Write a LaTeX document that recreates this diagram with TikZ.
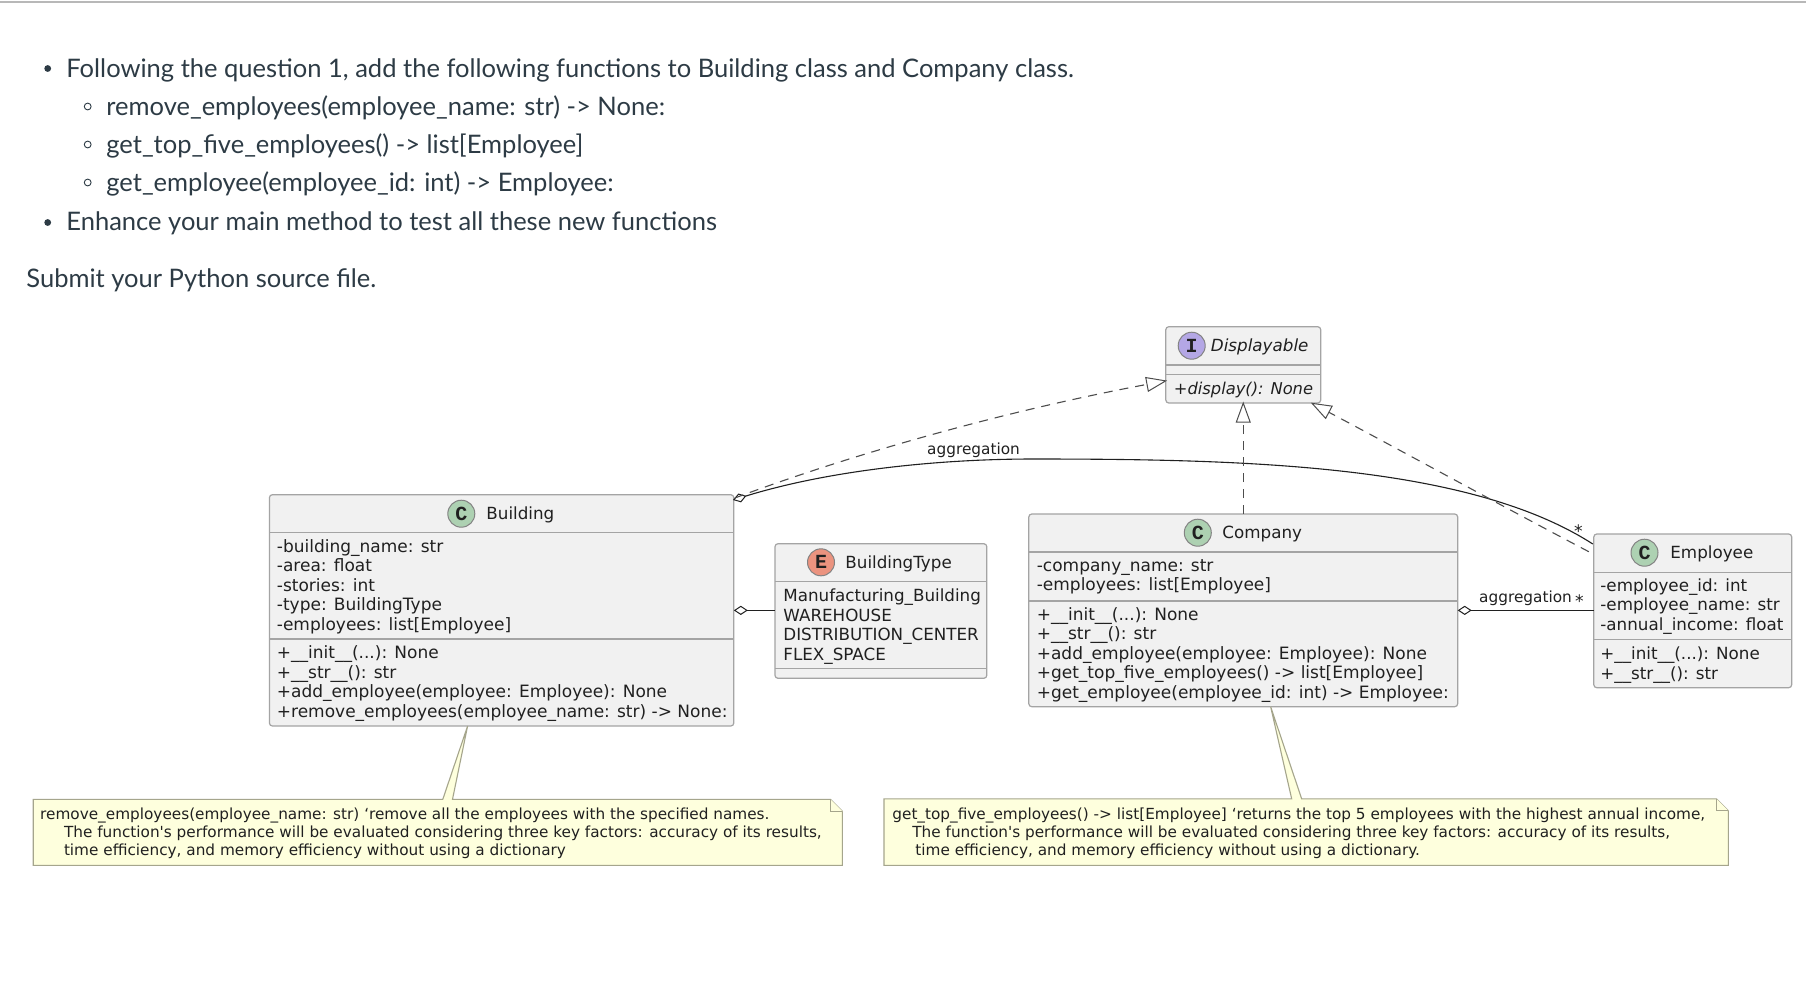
\documentclass[tikz,border=0pt]{standalone}
\usepackage{fontspec}
\usetikzlibrary{arrows.meta,fit,calc,shapes.geometric}
\newfontfamily\latofont{Lato}
\newfontfamily\dejavu{DejaVu Sans}
\newfontfamily\dejavuit{DejaVu Sans Oblique}
\newfontfamily\iconfont{Liberation Mono}
\definecolor{boxfill}{HTML}{F1F1F1}
\definecolor{boxline}{HTML}{A4A4A4}
\definecolor{notefill}{HTML}{FEFFDD}
\definecolor{noteline}{HTML}{A5A58C}
\definecolor{ink}{HTML}{202020}
\definecolor{prose}{HTML}{2D3B45}
\definecolor{iconC}{HTML}{ADD1B2}
\definecolor{iconI}{HTML}{B4A7E5}
\definecolor{iconE}{HTML}{EB937F}
\newcommand{\fl}{\rule{0pt}{6.5pt}}
\newcommand{\nl}{\rule{0pt}{6pt}}
\tikzset{
  x=0.5pt,y=-0.5pt,
  prosetext/.style={anchor=base west,inner sep=0pt,text=prose,font=\latofont\fontsize{12.76}{15}\selectfont},
  umlbox/.style={draw=boxline,fill=boxfill,line width=0.6pt,rounded corners=1.5pt,inner sep=0pt,outer sep=0pt},
  sepline/.style={draw=boxline,line width=0.6pt},
  members/.style={anchor=north west,inner sep=0pt,align=left,text=ink,font=\dejavu\fontsize{8.37}{9.75}\selectfont},
  wider/.style={font=\dejavu\fontsize{8.5}{9.75}\selectfont},
  titletext/.style={anchor=base west,inner sep=0pt,text=ink,font=\dejavu\fontsize{8.37}{9.75}\selectfont},
  icon/.style={circle,draw=boxline!80!black,line width=0.5pt,minimum size=13.5pt,inner sep=0pt,text=ink,font=\iconfont\bfseries\fontsize{10}{10}\selectfont},
  notebody/.style={draw=noteline,fill=notefill,line width=0.55pt,line join=miter},
  notetext/.style={anchor=north west,inner sep=0pt,align=left,text=ink,font=\dejavu\fontsize{7.64}{9}\selectfont},
  edgelabel/.style={inner sep=0pt,text=ink,font=\dejavu\fontsize{7.65}{9}\selectfont},
  agg/.style={draw=ink,line width=0.55pt,{Diamond[open,length=7pt,width=4.6pt,line width=0.5pt]}-},
  real/.style={draw=ink!80,line width=0.55pt,dash pattern=on 4.5pt off 3.5pt,shorten >=-0.7pt,-{Triangle[open,length=10.5pt,width=7.5pt,line width=0.5pt]}},
}
\begin{document}
\begin{tikzpicture}
\useasboundingbox (0,0) rectangle (1806,982);
\fill[white] (0,0) rectangle (1806,982);
\draw[draw=black!28,line width=0.9pt] (0,2) -- (1806,2);

% prose
\node[prosetext] (p1) at (66,77) {Following the question 1, add the following functions to Building class and Company class.};
\node[prosetext] (p2) at (106,115.5) {remove\_employees(employee\_name: str) -> None:};
\node[prosetext] (p3) at (106,153.5) {get\_top\_five\_employees() -> list[Employee]};
\node[prosetext] (p4) at (106,191.5) {get\_employee(employee\_id: int) -> Employee:};
\node[prosetext] (p5) at (66,230.5) {Enhance your main method to test all these new functions};
\node[prosetext] (p6) at (26,287) {Submit your Python source file.};
\node[circle,fill=prose,inner sep=0pt,minimum size=3.4pt] (b1) at (47.7,68.5) {};
\node[circle,fill=prose,inner sep=0pt,minimum size=3.4pt] (b2) at (47.7,222.5) {};
\node[circle,draw=prose,line width=0.45pt,inner sep=0pt,minimum size=3.4pt] (s1) at (87.7,106.5) {};
\node[circle,draw=prose,line width=0.45pt,inner sep=0pt,minimum size=3.4pt] (s2) at (87.7,144.5) {};
\node[circle,draw=prose,line width=0.45pt,inner sep=0pt,minimum size=3.4pt] (s3) at (87.7,182.5) {};

% boxes
\node[umlbox,fit={(269.4,494.7)(733.8,726)}] (building) {};
\node[umlbox,fit={(775,543.7)(986.8,678.3)}] (buildingtype) {};
\node[umlbox,fit={(1165.8,326.7)(1320.7,403)}] (displayable) {};
\node[umlbox,fit={(1028.8,514)(1457.7,706.7)}] (company) {};
\node[umlbox,fit={(1593.8,534)(1791.7,687.7)}] (employee) {};

% compartment lines
\draw[sepline] (building.west |- 0,532.7) -- (building.east |- 0,532.7);
\draw[sepline] (building.west |- 0,639) -- (building.east |- 0,639);
\draw[sepline] (buildingtype.west |- 0,581.7) -- (buildingtype.east |- 0,581.7);
\draw[sepline] (buildingtype.west |- 0,668.7) -- (buildingtype.east |- 0,668.7);
\draw[sepline] (displayable.west |- 0,365) -- (displayable.east |- 0,365);
\draw[sepline] (displayable.west |- 0,374.3) -- (displayable.east |- 0,374.3);
\draw[sepline] (company.west |- 0,552) -- (company.east |- 0,552);
\draw[sepline] (company.west |- 0,601) -- (company.east |- 0,601);
\draw[sepline] (employee.west |- 0,572.3) -- (employee.east |- 0,572.3);
\draw[sepline] (employee.west |- 0,639.3) -- (employee.east |- 0,639.3);

% icons and titles
\node[icon,fill=iconC] (iconB) at (461.3,513.7) {C};
\node[titletext] (tB) at (486,519) {Building};
\node[icon,fill=iconE] (iconT) at (821,562.3) {E};
\node[titletext] (tT) at (845,568) {BuildingType};
\node[icon,fill=iconI] (iconD) at (1191.7,345.7) {I};
\node[titletext,font=\dejavuit\fontsize{8.37}{9.75}\selectfont] (tD) at (1210.5,351) {Displayable};
\node[icon,fill=iconC] (iconCo) at (1197.8,532.7) {C};
\node[titletext] (tC) at (1222,538) {Company};
\node[icon,fill=iconC] (iconEm) at (1644.5,552.7) {C};
\node[titletext] (tE) at (1670,558) {Employee};

% members
\node[members,wider] (bA) at (276.5,538.7) {\fl-building\_name: str\\-area: float\\-stories: int\\-type: BuildingType\\-employees: list[Employee]};
\node[members,wider] (bM) at (276.5,645.3) {\fl+\_\_init\_\_(...): None\\+\_\_str\_\_(): str\\+add\_employee(employee: Employee): None\\+remove\_employees(employee\_name: str) -> None:};
\node[members] (tA) at (783,588.2) {\fl Manufacturing\_Building\\WAREHOUSE\\DISTRIBUTION\_CENTER\\FLEX\_SPACE};
\node[members,font=\dejavuit\fontsize{8.15}{9.75}\selectfont] (dM) at (1173.5,381) {\fl+display(): None};
\node[members,wider] (cA) at (1036.4,558) {\fl-company\_name: str\\-employees: list[Employee]};
\node[members,wider] (cM) at (1036.4,607) {\fl+\_\_init\_\_(...): None\\+\_\_str\_\_(): str\\+add\_employee(employee: Employee): None\\+get\_top\_five\_employees() -> list[Employee]\\+get\_employee(employee\_id: int) -> Employee:};
\node[members] (eA) at (1600,578) {\fl-employee\_id: int\\-employee\_name: str\\-annual\_income: float};
\node[members] (eM) at (1600,646.3) {\fl+\_\_init\_\_(...): None\\+\_\_str\_\_(): str};

% notes
\coordinate (n1tip) at ($(building.south)+(-34,0)$);
\coordinate (n2tip) at ($(company.south)+(27.4,0)$);
\node[fit={(33.6,799.7)(842,865)},inner sep=0pt] (note1) {};
\node[fit={(884.4,799.3)(1728,865)},inner sep=0pt] (note2) {};
\draw[notebody] (note1.north west) -- (note1.north west -| 442.8,0) -- (n1tip) -- (note1.north west -| 452.5,0) -- ($(note1.north east)+(-12,0)$) -- ($(note1.north east)+(0,12)$) -- (note1.south east) -- (note1.south west) -- cycle;
\draw[notebody] ($(note1.north east)+(-12,0)$) -- ($(note1.north east)+(-12,12)$) -- ($(note1.north east)+(0,12)$);
\draw[notebody] (note2.north west) -- (note2.north west -| 1291.7,0) -- (n2tip) -- (note2.north west -| 1301.7,0) -- ($(note2.north east)+(-12,0)$) -- ($(note2.north east)+(0,12)$) -- (note2.south east) -- (note2.south west) -- cycle;
\draw[notebody] ($(note2.north east)+(-12,0)$) -- ($(note2.north east)+(-12,12)$) -- ($(note2.north east)+(0,12)$);
\node[notetext] (n1t) at (39.8,807) {\nl remove\_employees(employee\_name: str) ‘remove all the employees with the specified names.\\\hspace*{11.9pt}The function's performance will be evaluated considering three key factors: accuracy of its results,\\\hspace*{11.9pt}time efficiency, and memory efficiency without using a dictionary};
\node[notetext] (n2t) at (892,807) {\nl get\_top\_five\_employees() -> list[Employee] ‘returns the top 5 employees with the highest annual income,\\\hspace*{10pt}The function's performance will be evaluated considering three key factors: accuracy of its results,\\\hspace*{11.5pt}time efficiency, and memory efficiency without using a dictionary.};

% connectors
\coordinate (bCorner) at ($(building.north east)+(-0.8,5.3)$);
\draw[agg] (building.east) -- (buildingtype.west |- building.east);
\draw[agg] (company.east) -- (employee.west |- company.east);
\draw[agg] (bCorner) .. controls (830,470) and (940,459) .. (1033,459) .. controls (1250,459) and (1470,465) .. ($(employee.north west)+(-1,10)$);
\draw[real] ($(building.north east)+(1,3.3)$) .. controls (850,455) and (1000,412) .. ($(displayable.west)+(0,16)$);
\draw[real] (company.north) -- (displayable.south);
\draw[real] ($(employee.north west)+(-5,17.7)$) .. controls (1500,505) and (1400,450) .. ($(displayable.south east)+(-8.7,0.3)$);

% edge labels
\node[edgelabel] (l1) at (973.5,450) {aggregation};
\node[edgelabel] (l2) at (1525.5,598.7) {aggregation};
\node[edgelabel,font=\dejavu\fontsize{8.6}{9}\selectfont] (m1) at (1578.5,531) {*};
\node[edgelabel,font=\dejavu\fontsize{8.6}{9}\selectfont] (m2) at (1579.5,601) {*};
\end{tikzpicture}
\end{document}
